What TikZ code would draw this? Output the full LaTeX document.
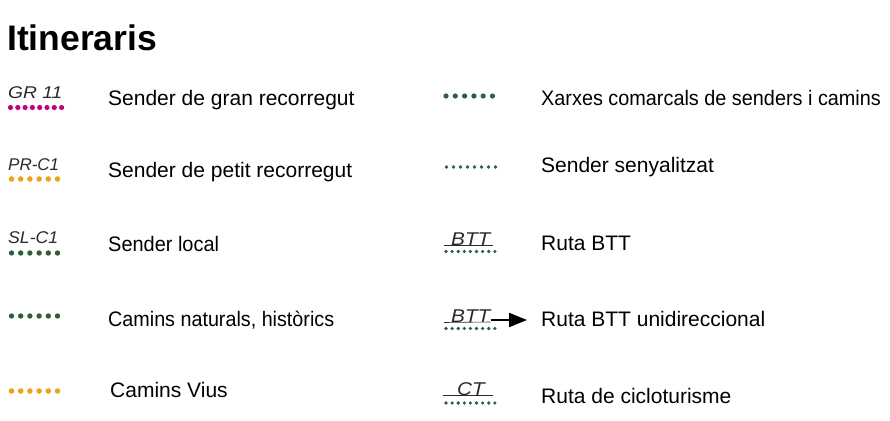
\documentclass[tikz,border=0pt]{standalone}
\usepackage{fontspec}
\setmainfont{Liberation Sans}
\usetikzlibrary{arrows.meta,calc}
\definecolor{gmag}{HTML}{C4007E}
\definecolor{gora}{HTML}{E9A51B}
\definecolor{ggrn}{HTML}{2F5E3A}
\definecolor{gtxt}{HTML}{2A2A2A}
\tikzset{
  lbl/.style={anchor=base west,inner sep=0pt,font=\fontsize{21}{25}\selectfont,text=black},
  code/.style={anchor=base west,inner sep=0pt,font=\fontsize{17}{20}\selectfont\itshape,text=gtxt},
  bcode/.style={anchor=base west,inner sep=0pt,font=\fontsize{18.5}{22}\selectfont\itshape,text=gtxt},
  ttl/.style={anchor=base west,inner sep=0pt,font=\fontsize{35.5}{40}\selectfont\bfseries,text=black},
  uline/.style={draw=gtxt,line width=0.6pt}
}
\newcommand{\dotrow}[6]{% x0, y, n, step, radius, colour
  \foreach \k in {1,...,#3}{\fill[#6] ({#1+(\k-1)*#4},#2) circle (#5);}}
\begin{document}
\begin{tikzpicture}[x=1pt,y=-1pt]
\useasboundingbox (0,0) rectangle (890,420);
\node[ttl] (title) at (7,51) {Itineraris};
% left column
\node[code] (gr) at (8,98) {\scalebox{1.13}[1]{GR 11}};
\dotrow{10.5}{107.5}{8}{7.3}{2.6}{gmag}
\node[lbl] (l1) at (108,105) {Sender de gran recorregut};
\node[code] (pr) at (8,170) {PR-C1};
\dotrow{11.5}{179}{6}{9.2}{2.8}{gora}
\node[lbl] (l2) at (108,177) {Sender de petit recorregut};
\node[code] (sl) at (8,243) {\scalebox{1.04}[1]{SL-C1}};
\dotrow{11.5}{253}{6}{9.2}{2.7}{ggrn}
\node[lbl] (l3) at (108,251) {\scalebox{0.95}[1]{Sender local}};
\dotrow{11.5}{316}{6}{9.2}{2.7}{ggrn}
\node[lbl] (l4) at (108,326) {\scalebox{0.94}[1]{Camins naturals, històrics}};
\dotrow{11.5}{391}{6}{9.2}{2.8}{gora}
\node[lbl] (l5) at (110,397) {Camins Vius};
% right column
\dotrow{446}{96}{6}{9.3}{2.6}{ggrn}
\node[lbl] (r1) at (541,105) {\scalebox{0.945}[1]{Xarxes comarcals de senders i camins}};
\dotrow{446.5}{167}{8}{7}{1.9}{ggrn}
\node[lbl] (r2) at (541,172) {Sender senyalitzat};
\node[bcode] (b1) at (451,245) {\scalebox{1.12}[1]{BTT}};
\draw[uline] (444,245.5) -- (493,245.5);
\dotrow{446}{251.5}{9}{6.1}{1.8}{ggrn}
\node[lbl] (r3) at (541,250) {Ruta BTT};
\node[bcode] (b2) at (451,322) {\scalebox{1.12}[1]{BTT}};
\draw[uline] (444,322.5) -- (b2.base east);
\dotrow{446}{328.5}{9}{6.1}{1.8}{ggrn}
\coordinate (a0) at ($(b2.base east)+(0,-2)$);
\coordinate (a1) at (527,320);
\node[lbl] (r4) at (541,326) {Ruta BTT unidireccional};
\draw[line width=2pt,-{Triangle[length=18pt,width=14pt]}] (a0) -- (a1);
\node[bcode] (ct) at (457,395) {\scalebox{1.12}[1]{CT}};
\draw[uline] (443,395.5) -- (493,395.5);
\dotrow{446}{403}{9}{6.1}{1.8}{ggrn}
\node[lbl] (r5) at (541,403) {Ruta de cicloturisme};
\end{tikzpicture}
\end{document}
